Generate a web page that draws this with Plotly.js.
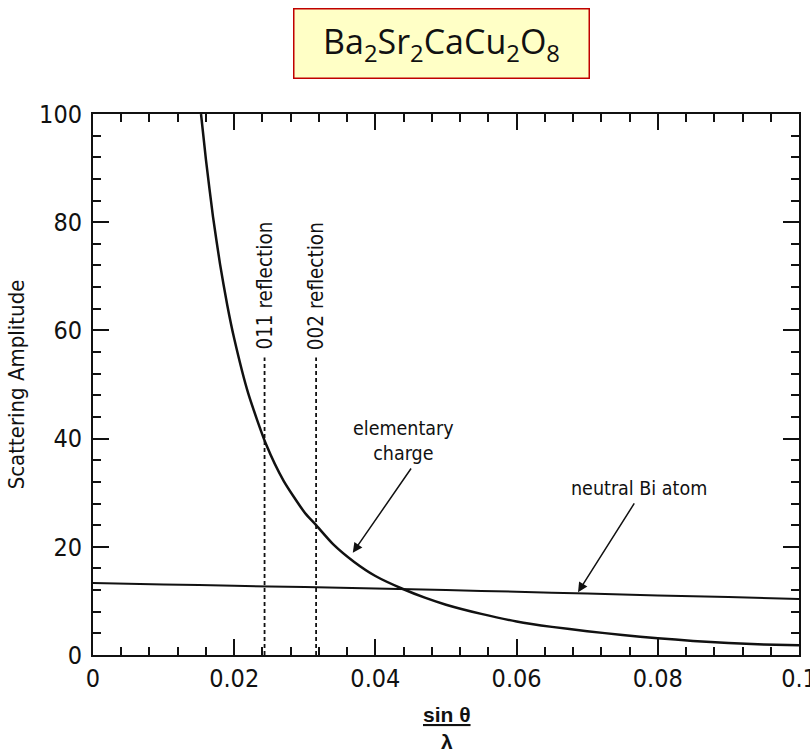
<!DOCTYPE html>
<html>
<head>
<meta charset="utf-8">
<script src="https://cdn.plot.ly/plotly-3.0.1.min.js"></script>
<style>
  html, body { margin: 0; padding: 0; background: #fff; }
  #chart { width: 810px; height: 755px; }
</style>
</head>
<body>
<div id="chart"></div>
<script>
// ---- data ----
const chargeX = [0.0153, 0.016, 0.017, 0.018, 0.019, 0.020, 0.022, 0.0245, 0.027, 0.030, 0.0316, 0.034, 0.037, 0.040, 0.0439, 0.047, 0.050, 0.055, 0.060, 0.065, 0.070, 0.075, 0.080, 0.085, 0.090, 0.095, 0.100];
const chargeY = [100, 91.5, 81, 72.2, 64.8, 58.5, 48.3, 39, 32.2, 26.3, 24, 20.5, 17.2, 14.6, 12.2, 10.6, 9.3, 7.6, 6.2, 5.2, 4.4, 3.7, 3.1, 2.6, 2.2, 1.95, 1.8];

const biX = [0, 0.01, 0.02, 0.03, 0.04, 0.05, 0.06, 0.07, 0.08, 0.09, 0.10];
const biY = [13.3, 13.05, 12.8, 12.55, 12.3, 12.0, 11.7, 11.35, 11.0, 10.7, 10.35];

const reflectionX = [0.0243, 0.0316];
const reflectionTop = [55, 55];
const reflectionLabels = ['011 reflection', '002 reflection'];

const xTickVals = [0, 0.02, 0.04, 0.06, 0.08, 0.1];
const xTickText = ['0', '0.02', '0.04', '0.06', '0.08', '0.1'];
const yTickVals = [0, 20, 40, 60, 80, 100];
const yTickText = ['0', '20', '40', '60', '80', '100'];

const titleText = 'Ba<sub>2</sub>Sr<sub>2</sub>CaCu<sub>2</sub>O<sub>8</sub>';
const yTitle = 'Scattering Amplitude';
const xTitle = '<u>sin θ</u><br>λ';
const chargeLabel = 'elementary<br>charge';
const chargePoint = [0.0368, 18.9];
const chargeTail = [0.0452, 34.75];
const biLabel = 'neutral Bi atom';
const biPoint = [0.0687, 11.6];
const biTail = [0.0768, 28.3];

// ---- traces ----
const narrow = '"DejaVu Sans Condensed", "Liberation Sans Narrow", "Liberation Sans", Arial, sans-serif';
const traces = [
  { x: chargeX, y: chargeY, mode: 'lines', line: { color: '#111', width: 2.5, shape: 'spline', smoothing: 0.6 }, hoverinfo: 'skip' },
  { x: biX, y: biY, mode: 'lines', line: { color: '#111', width: 2, shape: 'spline', smoothing: 0.6 }, hoverinfo: 'skip' }
];
reflectionX.forEach((rx, i) => {
  traces.push({ x: [rx, rx], y: [0, reflectionTop[i]], mode: 'lines',
    line: { color: '#111', width: 1.8, dash: '4px,3px' }, hoverinfo: 'skip' });
});

const annotations = [];
reflectionX.forEach((rx, i) => {
  annotations.push({ x: rx, y: reflectionTop[i] + 1.0, xref: 'x', yref: 'y', text: reflectionLabels[i],
    textangle: -90, showarrow: false, xanchor: 'center', yanchor: 'bottom',
    font: { family: narrow, size: 20.5, color: '#111' } });
});
annotations.push({ x: chargePoint[0], y: chargePoint[1], ax: chargeTail[0], ay: chargeTail[1],
  xref: 'x', yref: 'y', axref: 'x', ayref: 'y', text: '', showarrow: true,
  arrowhead: 2, arrowsize: 1.3, arrowwidth: 1.5, arrowcolor: '#111', standoff: 0 });
annotations.push({ x: biPoint[0], y: biPoint[1], ax: biTail[0], ay: biTail[1],
  xref: 'x', yref: 'y', axref: 'x', ayref: 'y', text: '', showarrow: true,
  arrowhead: 2, arrowsize: 1.3, arrowwidth: 1.5, arrowcolor: '#111', standoff: 0 });
annotations.push({ x: chargeTail[0] - 0.0012, y: 39.5, xref: 'x', yref: 'y', text: chargeLabel,
  showarrow: false, xanchor: 'center', yanchor: 'middle', align: 'center',
  font: { family: narrow, size: 19.5, color: '#111' } });
annotations.push({ x: biTail[0] + 0.0006, y: 30.8, xref: 'x', yref: 'y', text: biLabel,
  showarrow: false, xanchor: 'center', yanchor: 'middle',
  font: { family: narrow, size: 19.5, color: '#111' } });
// title box
annotations.push({ x: 0.493, y: 1.131, xref: 'paper', yref: 'paper', text: titleText,
  showarrow: false, xanchor: 'center', yanchor: 'middle', width: 278, height: 52,
  bgcolor: '#FFFFC6', bordercolor: '#C00000', borderwidth: 1.5, borderpad: 8,
  font: { family: '"Open Sans", "Noto Sans", sans-serif', size: 34, color: '#111' } });
// x axis title
annotations.push({ x: 0.501, y: -0.135, xref: 'paper', yref: 'paper', text: xTitle,
  showarrow: false, xanchor: 'center', yanchor: 'middle', align: 'center',
  font: { family: '"Liberation Sans", Arial, sans-serif', size: 21, color: '#111', weight: 'bold' } });

const axisCommon = {
  showgrid: false, zeroline: false, showline: true, linecolor: '#111', linewidth: 2,
  mirror: 'ticks', ticks: 'inside', ticklen: 16, tickwidth: 2, tickcolor: '#111',
  tickfont: { family: narrow, size: 25, color: '#111' }, tickmode: 'array',
  ticklabeloverflow: 'allow'
};

const layout = {
  width: 810, height: 755,
  margin: { l: 93, r: 11, t: 114, b: 100 },
  paper_bgcolor: '#fff', plot_bgcolor: '#fff',
  showlegend: false,
  xaxis: Object.assign({}, axisCommon, {
    range: [0, 0.1], tickvals: xTickVals, ticktext: xTickText,
    minor: { dtick: 0.004, tick0: 0, ticks: 'inside', ticklen: 8, tickwidth: 2, tickcolor: '#111' }
  }),
  yaxis: Object.assign({}, axisCommon, {
    range: [0, 100], tickvals: yTickVals, ticktext: yTickText,
    ticklabelstandoff: 4,
    title: { text: yTitle, font: { family: narrow, size: 22, color: '#111' }, standoff: 8 },
    minor: { dtick: 4, tick0: 0, ticks: 'inside', ticklen: 8, tickwidth: 2, tickcolor: '#111' }
  }),
  annotations: annotations
};

Plotly.newPlot('chart', traces, layout, { staticPlot: true, displayModeBar: false });
</script>
</body>
</html>
